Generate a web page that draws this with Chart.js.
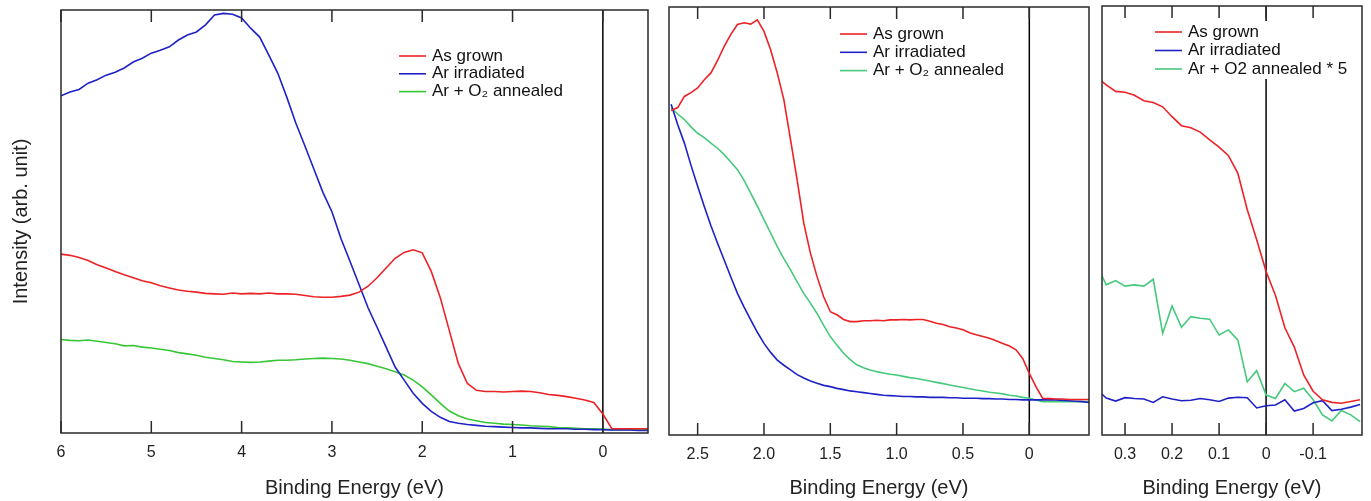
<!DOCTYPE html>
<html>
<head>
<meta charset="utf-8">
<script src="https://cdn.jsdelivr.net/npm/chart.js"></script>
<style>
  body { margin: 0; background: #fff; }
  .panel { position: absolute; top: 0; }
</style>
</head>
<body>
<canvas id="panel1" class="panel" style="left:0px" width="655" height="501"></canvas>
<canvas id="panel2" class="panel" style="left:655px" width="445" height="501"></canvas>
<canvas id="panel3" class="panel" style="left:1100px" width="271" height="501"></canvas>

<script>
// ---- panel 1 : wide scan ----
const energy1 = [6.0,5.9,5.8,5.7,5.6,5.5,5.4,5.3,5.2,5.1,
  5.0,4.9,4.8,4.7,4.6,4.5,4.4,4.3,4.2,4.1,
  4.0,3.9,3.8,3.7,3.6,3.5,3.4,3.3,3.2,3.1,
  3.0,2.9,2.8,2.7,2.6,2.5,2.4,2.3,2.2,2.1,
  2.0,1.9,1.8,1.7,1.6,1.5,1.4,1.3,1.2,1.1,
  1.0,0.9,0.8,0.7,0.6,0.5,0.4,0.3,0.2,0.1,
  0.0,-0.1,-0.2,-0.3,-0.4,-0.5];
const grown1 = [42.3,42.0,41.5,40.8,39.8,39.0,38.2,37.4,36.7,36.0,
  35.5,34.8,34.3,33.8,33.5,33.3,33.0,32.9,32.8,33.1,
  32.9,33.0,32.9,33.1,32.9,32.9,32.8,32.5,32.2,32.1,
  32.1,32.3,32.6,33.3,34.7,36.7,39.0,41.3,42.7,43.3,
  42.6,38.2,32.0,24.2,16.4,11.7,10.1,9.8,9.8,9.7,
  9.8,9.9,9.8,9.5,9.1,8.9,8.6,8.2,7.8,7.2,
  4.5,1.0,1.0,1.0,1.0,1.0];
const irradiated1 = [79.7,80.6,81.2,82.7,83.5,84.6,85.3,86.3,87.7,88.6,
  89.8,90.5,91.3,92.9,94.1,94.8,96.5,98.8,99.2,99.0,
  98.1,95.7,93.6,89.4,85.1,79.4,73.3,67.9,62.4,56.9,
  52.3,46.0,40.6,35.1,29.6,25.0,20.3,15.6,12.5,9.4,
  7.0,5.1,3.7,2.7,2.3,2.0,1.8,1.6,1.5,1.4,
  1.3,1.2,1.2,1.1,1.0,1.0,1.0,0.9,0.9,0.8,
  0.8,0.7,0.7,0.7,0.6,0.6];
const annealed1 = [22.1,21.9,21.8,22.0,21.7,21.4,21.1,20.6,20.7,20.3,
  20.1,19.8,19.5,19.0,18.7,18.4,17.9,17.6,17.3,16.9,
  16.8,16.7,16.8,17.0,17.2,17.2,17.3,17.5,17.6,17.7,
  17.6,17.5,17.2,16.8,16.4,15.8,15.2,14.5,13.7,12.5,
  10.9,9.0,7.0,5.2,4.1,3.3,2.9,2.5,2.3,2.1,
  2.0,1.9,1.7,1.6,1.5,1.3,1.2,1.1,1.0,1.0,
  0.9,0.8,0.8,0.8,0.8,0.8];
const xTicks1 = [6, 5, 4, 3, 2, 1, 0];
const xTickLabels1 = ['6', '5', '4', '3', '2', '1', '0'];

// ---- panel 2 : valence band zoom ----
const energy2 = [2.70,2.65,2.60,2.55,2.50,2.45,2.40,2.35,2.30,2.25,
  2.20,2.15,2.10,2.05,2.00,1.95,1.90,1.85,1.80,1.75,
  1.70,1.65,1.60,1.55,1.50,1.45,1.40,1.35,1.30,1.25,
  1.20,1.15,1.10,1.05,1.00,0.95,0.90,0.85,0.80,0.75,
  0.70,0.65,0.60,0.55,0.50,0.45,0.40,0.35,0.30,0.25,
  0.20,0.15,0.10,0.05,0.00,-0.05,-0.10,-0.15,-0.20,-0.25,
  -0.30,-0.35,-0.40,-0.45];
const grown2 = [75.8,76.5,79.1,80.0,81.1,83.0,84.6,87.5,90.8,93.6,
  95.9,96.3,96.0,97.0,94.3,90.0,84.6,78.3,69.0,59.6,
  49.5,42.5,37.0,32.3,28.8,28.1,27.0,26.5,26.5,26.7,
  26.7,26.8,26.7,26.9,26.9,27.0,26.9,27.0,27.0,26.6,
  26.1,25.8,25.3,25.0,24.6,23.9,23.4,23.0,22.6,22.0,
  21.4,20.8,19.9,17.9,14.4,11.3,8.6,8.5,8.4,8.4,
  8.3,8.3,8.3,8.3];
const irradiated2 = [77.3,72.5,68.2,63.0,58.1,53.4,48.9,44.8,40.9,36.9,
  33.1,29.9,26.9,24.0,21.4,19.3,17.5,16.3,15.2,14.1,
  13.3,12.6,12.1,11.6,11.3,10.9,10.6,10.3,10.1,9.9,
  9.7,9.5,9.3,9.2,9.1,9.0,9.0,8.9,8.9,8.8,
  8.8,8.8,8.7,8.7,8.6,8.6,8.6,8.5,8.5,8.4,
  8.4,8.3,8.3,8.2,8.2,8.2,8.2,8.2,8.2,8.1,
  8.0,7.9,7.8,7.6];
const annealed2 = [76.4,75.0,73.7,72.0,70.5,69.5,68.2,67.0,65.5,63.8,
  62.0,59.5,56.5,53.5,50.3,47.2,44.0,41.2,38.6,35.8,
  33.1,30.8,28.4,25.6,23.0,21.0,19.1,17.6,16.4,15.7,
  15.2,14.8,14.5,14.2,14.0,13.7,13.4,13.2,12.9,12.6,
  12.3,12.0,11.7,11.4,11.1,10.8,10.5,10.3,10.0,9.8,
  9.6,9.3,9.1,8.8,8.6,8.2,7.8,7.8,7.8,7.8,
  7.8,7.8,7.8,7.8];
const xTicks2 = [2.5, 2.0, 1.5, 1.0, 0.5, 0];
const xTickLabels2 = ['2.5', '2.0', '1.5', '1.0', '0.5', '0'];

// ---- panel 3 : Fermi edge ----
const energy3 = [0.35,0.34,0.32,0.30,0.28,0.26,0.24,0.22,0.20,0.18,
  0.16,0.14,0.12,0.10,0.08,0.06,0.04,0.02,0.00,-0.02,
  -0.04,-0.06,-0.08,-0.10,-0.12,-0.14,-0.16,-0.18,-0.20];
const grown3 = [82.5,81.6,80.1,79.9,79.2,77.9,77.5,76.5,74.2,72.1,
  71.6,70.6,68.8,67.1,65.1,61.0,52.5,45.5,38.1,32.5,
  25.0,20.5,14.0,10.2,8.2,7.6,7.4,7.8,8.2];
const irradiated3 = [9.6,8.6,7.9,8.7,8.5,8.4,7.6,8.9,8.4,8.0,
  8.1,8.5,8.2,7.8,8.6,8.8,8.7,6.3,6.8,7.0,
  8.2,5.6,6.2,7.5,8.0,5.7,6.0,6.5,7.1];
const annealed3 = [37.3,35.0,36.0,34.7,35.0,34.7,36.3,23.7,30.1,25.1,
  27.6,27.2,27.0,23.3,24.5,22.1,12.4,15.0,9.3,8.5,
  12.0,10.1,10.9,8.2,4.7,3.3,5.7,4.7,3.1];
const xTicks3 = [0.3, 0.2, 0.1, 0, -0.1];
const xTickLabels3 = ['0.3', '0.2', '0.1', '0', '-0.1'];

const labels12 = ['As grown', 'Ar irradiated', 'Ar + O\u2082 annealed'];
const labels3 = ['As grown', 'Ar irradiated', 'Ar + O2 annealed * 5'];

const FONT = '"Liberation Sans", Arial, Helvetica, sans-serif';
const RED = '#ec2226', BLUE = '#1e22c6';

function pts(xs, ys) {
  return xs.map((x, i) => ({ x: x, y: ys[i] }));
}

// frame, inward ticks and the zero line
const framePlugin = {
  id: 'frame',
  beforeDatasetsDraw(chart) {
    const { ctx, chartArea: a, scales: { x } } = chart;
    const z = x.getPixelForValue(0);
    ctx.save();
    ctx.strokeStyle = '#000';
    ctx.lineWidth = 1.5;
    ctx.beginPath();
    ctx.moveTo(z, a.top);
    ctx.lineTo(z, a.bottom);
    ctx.stroke();
    ctx.restore();
  },
  afterDatasetsDraw(chart) {
    const { ctx, chartArea: a, scales: { x } } = chart;
    ctx.save();
    ctx.strokeStyle = '#2a2a2a';
    ctx.lineWidth = 1.5;
    ctx.strokeRect(a.left, a.top, a.right - a.left, a.bottom - a.top);
    ctx.beginPath();
    x.ticks.forEach(t => {
      const px = x.getPixelForValue(t.value);
      ctx.moveTo(px, a.bottom);
      ctx.lineTo(px, a.bottom - 12);
      ctx.moveTo(px, a.top);
      ctx.lineTo(px, a.top + 12);
    });
    ctx.stroke();
    ctx.restore();
  }
};

// legend drawn inside the plot, like the original
const legendPlugin = {
  id: 'inLegend',
  beforeDatasetsDraw(chart, args, opts) {
    if (!opts.box) return;
    const ctx = chart.ctx;
    ctx.save();
    ctx.fillStyle = '#fff';
    ctx.fillRect(opts.box[0], opts.box[1], opts.box[2], opts.box[3]);
    ctx.restore();
  },
  afterDatasetsDraw(chart, args, opts) {
    const ctx = chart.ctx;
    ctx.save();
    ctx.font = '17px ' + FONT;
    ctx.textBaseline = 'middle';
    chart.data.datasets.forEach((ds, i) => {
      const y = opts.y + i * opts.gap;
      ctx.strokeStyle = ds.borderColor;
      ctx.lineWidth = 1.6;
      ctx.beginPath();
      ctx.moveTo(opts.x, y);
      ctx.lineTo(opts.x + 27, y);
      ctx.stroke();
      ctx.fillStyle = '#111';
      ctx.fillText(ds.label, opts.x + 33, y);
    });
    ctx.restore();
  }
};

function makePanel(id, cfg) {
  new Chart(document.getElementById(id), {
    type: 'line',
    data: {
      datasets: [
        { label: cfg.labels[0], data: pts(cfg.energy, cfg.grown), borderColor: RED },
        { label: cfg.labels[1], data: pts(cfg.energy, cfg.irradiated), borderColor: BLUE },
        { label: cfg.labels[2], data: pts(cfg.energy, cfg.annealed), borderColor: cfg.green }
      ]
    },
    options: {
      responsive: false,
      animation: false,
      devicePixelRatio: 1,
      layout: { padding: cfg.padding },
      elements: {
        point: { radius: 0 },
        line: { borderWidth: 1.6, tension: 0 }
      },
      plugins: {
        legend: { display: false },
        tooltip: { enabled: false },
        inLegend: cfg.legend
      },
      scales: {
        x: {
          type: 'linear',
          reverse: true,
          min: cfg.xMin,
          max: cfg.xMax,
          afterBuildTicks: s => { s.ticks = cfg.ticks.map(v => ({ value: v })); },
          afterFit: s => { s.height = cfg.xHeight; },
          grid: { display: false, drawTicks: false },
          border: { display: false },
          ticks: {
            autoSkip: false,
            maxRotation: 0,
            padding: 10,
            color: '#222',
            font: { family: FONT, size: 16 },
            callback: v => cfg.tickLabels[cfg.ticks.indexOf(v)]
          },
          title: {
            display: true,
            text: 'Binding Energy (eV)',
            color: '#222',
            font: { family: FONT, size: 20 },
            padding: { top: 4, bottom: 1 }
          }
        },
        y: {
          min: 0,
          max: 100,
          display: cfg.showY,
          afterFit: s => { s.width = cfg.yWidth; },
          grid: { display: false, drawTicks: false },
          border: { display: false },
          ticks: { display: false },
          title: {
            display: cfg.showY,
            text: 'Intensity (arb. unit)',
            color: '#222',
            font: { family: FONT, size: 20 },
            padding: { top: 9, bottom: 0 }
          }
        }
      }
    },
    plugins: [framePlugin, legendPlugin]
  });
}

makePanel('panel1', {
  energy: energy1, grown: grown1, irradiated: irradiated1, annealed: annealed1,
  labels: labels12, green: '#36c636',
  xMin: -0.5, xMax: 6, ticks: xTicks1, tickLabels: xTickLabels1,
  padding: { top: 10, right: 7, left: 0, bottom: 0 },
  xHeight: 68, showY: true, yWidth: 61,
  legend: { x: 399, y: 56, gap: 17.8 }
});

makePanel('panel2', {
  energy: energy2, grown: grown2, irradiated: irradiated2, annealed: annealed2,
  labels: labels12, green: '#46c97c',
  xMin: -0.45, xMax: 2.716, ticks: xTicks2, tickLabels: xTickLabels2,
  padding: { top: 7, right: 11, left: 14, bottom: 0 },
  xHeight: 66, showY: false, yWidth: 0,
  legend: { x: 185, y: 34, gap: 18.3 }
});

makePanel('panel3', {
  energy: energy3, grown: grown3, irradiated: irradiated3, annealed: annealed3,
  labels: labels3, green: '#46c97c',
  xMin: -0.204, xMax: 0.349, ticks: xTicks3, tickLabels: xTickLabels3,
  padding: { top: 6, right: 9, left: 2, bottom: 0 },
  xHeight: 66, showY: false, yWidth: 0,
  legend: { x: 55, y: 32, gap: 18.5, box: [52, 21, 207, 58] }
});
</script>
</body>
</html>
